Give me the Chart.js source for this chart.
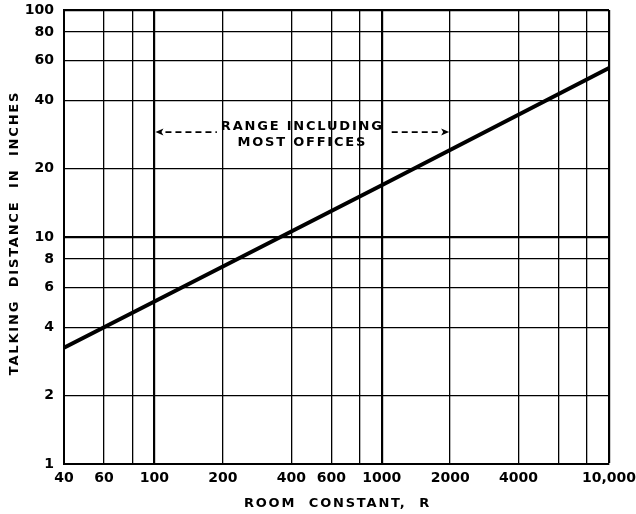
<!DOCTYPE html>
<html><head><meta charset="utf-8">
<script src="https://cdn.jsdelivr.net/npm/chart.js@4.4.0/dist/chart.umd.min.js"></script>
<style>html,body{margin:0;padding:0;background:#fff;}#wrap{width:636px;height:514px;}</style>
</head><body><div id="wrap"><canvas id="c" width="636" height="514"></canvas></div>
<script>
// Data (log-log line)
const roomConstant = [40, 100, 1000, 10000];
const talkingDistance = [3.25, 5.2, 16.9, 55.5];
// Grid values and tick labels
const xGridValues = [40, 60, 80, 100, 200, 400, 600, 800, 1000, 2000, 4000, 6000, 8000, 10000];
const xTickLabels = ['40', '60', '', '100', '200', '400', '600', '', '1000', '2000', '4000', '', '', '10,000'];
const yGridValues = [1, 2, 4, 6, 8, 10, 20, 40, 60, 80, 100];
const yTickLabels = ['1', '2', '4', '6', '8', '10', '20', '40', '60', '80', '100'];
const xHeavyLines = [100, 1000];
const yHeavyLines = [10];
// Annotation
const rangeStart = 100, rangeEnd = 2000, rangeLevel = 29;
const rangeText = ['RANGE INCLUDING', 'MOST OFFICES'];
const xTitle = 'ROOM  CONSTANT,  R';
const yTitle = 'TALKING  DISTANCE  IN  INCHES';

const FONT = "'DejaVu Sans', sans-serif";

const titlesPlugin = {
  id: 'titles',
  afterDraw(chart) {
    const ctx = chart.ctx, a = chart.chartArea;
    const xs = chart.scales.x, ys = chart.scales.y;
    ctx.save();
    ctx.fillStyle = '#000';
    ctx.strokeStyle = '#000';
    try { ctx.letterSpacing = '1.8px'; } catch (e) {}
    ctx.font = 'bold 13px ' + FONT;
    ctx.textAlign = 'center';
    ctx.textBaseline = 'middle';
    // x title
    ctx.fillText(xTitle, (a.left + a.right) / 2 + 1, 504);
    // y title
    ctx.save();
    ctx.translate(15, (a.top + a.bottom) / 2 - 4);
    ctx.rotate(-Math.PI / 2);
    ctx.fillText(yTitle, 0, 0);
    ctx.restore();
    // range annotation
    const x1 = xs.getPixelForValue(rangeStart);
    const x2 = xs.getPixelForValue(rangeEnd);
    const y = ys.getPixelForValue(rangeLevel);
    const cx = (x1 + x2) / 2;
    ctx.fillText(rangeText[0], cx, y - 5);
    ctx.fillText(rangeText[1], cx, y + 11);
    const w0 = ctx.measureText(rangeText[0]).width;
    try { ctx.letterSpacing = '0px'; } catch (e) {}
    ctx.lineWidth = 1.8;
    ctx.setLineDash([6, 4]);
    ctx.beginPath();
    ctx.moveTo(x1 + 11, y); ctx.lineTo(cx - w0 / 2 - 4, y);
    ctx.moveTo(cx + w0 / 2 + 8, y); ctx.lineTo(x2 - 10, y);
    ctx.stroke();
    ctx.setLineDash([]);
    // arrow heads
    ctx.beginPath();
    ctx.moveTo(x1 + 1, y); ctx.lineTo(x1 + 9, y - 3.5); ctx.lineTo(x1 + 7, y); ctx.lineTo(x1 + 9, y + 3.5); ctx.closePath();
    ctx.moveTo(x2 - 1, y); ctx.lineTo(x2 - 9, y - 3.5); ctx.lineTo(x2 - 7, y); ctx.lineTo(x2 - 9, y + 3.5); ctx.closePath();
    ctx.fill();
    ctx.restore();
  }
};

new Chart(document.getElementById('c'), {
  type: 'line',
  data: {
    datasets: [{
      data: roomConstant.map((r, i) => ({ x: r, y: talkingDistance[i] })),
      borderColor: '#000',
      borderWidth: 4,
      pointRadius: 0,
      fill: false,
      tension: 0
    }]
  },
  options: {
    responsive: false,
    animation: false,
    devicePixelRatio: 1,
    layout: { padding: { top: 10, right: 27, left: 0, bottom: 0 } },
    plugins: { legend: { display: false }, tooltip: { enabled: false } },
    scales: {
      x: {
        type: 'logarithmic',
        position: 'bottom',
        min: 40, max: 10000,
        afterBuildTicks: s => { s.ticks = xGridValues.map(v => ({ value: v })); },
        afterFit: s => { s.height = 50; s.paddingLeft = 0; s.paddingRight = 0; },
        ticks: {
          autoSkip: false, maxRotation: 0, minRotation: 0, padding: 6,
          color: '#000', font: { family: FONT, size: 14, weight: 'bold' },
          callback: (v, i) => xTickLabels[i]
        },
        grid: {
          color: '#000', drawTicks: false,
          lineWidth: c => {
            const v = c.tick ? c.tick.value : null;
            if (v === 10000) return 2.2;
            return xHeavyLines.includes(v) ? 2.2 : 1.3;
          }
        },
        border: { display: true, color: '#000', width: 2 }
      },
      y: {
        type: 'logarithmic',
        min: 1, max: 100,
        afterBuildTicks: s => { s.ticks = yGridValues.map(v => ({ value: v })); },
        afterFit: s => { s.width = 64; s.paddingTop = 0; s.paddingBottom = 0; },
        ticks: {
          autoSkip: false, padding: 10,
          color: '#000', font: { family: FONT, size: 14, weight: 'bold' },
          callback: (v, i) => yTickLabels[i]
        },
        grid: {
          color: '#000', drawTicks: false,
          lineWidth: c => {
            const v = c.tick ? c.tick.value : null;
            if (v === 100) return 2.2;
            return yHeavyLines.includes(v) ? 2.2 : 1.3;
          }
        },
        border: { display: true, color: '#000', width: 2 }
      }
    }
  },
  plugins: [titlesPlugin]
});
</script>
</body></html>
